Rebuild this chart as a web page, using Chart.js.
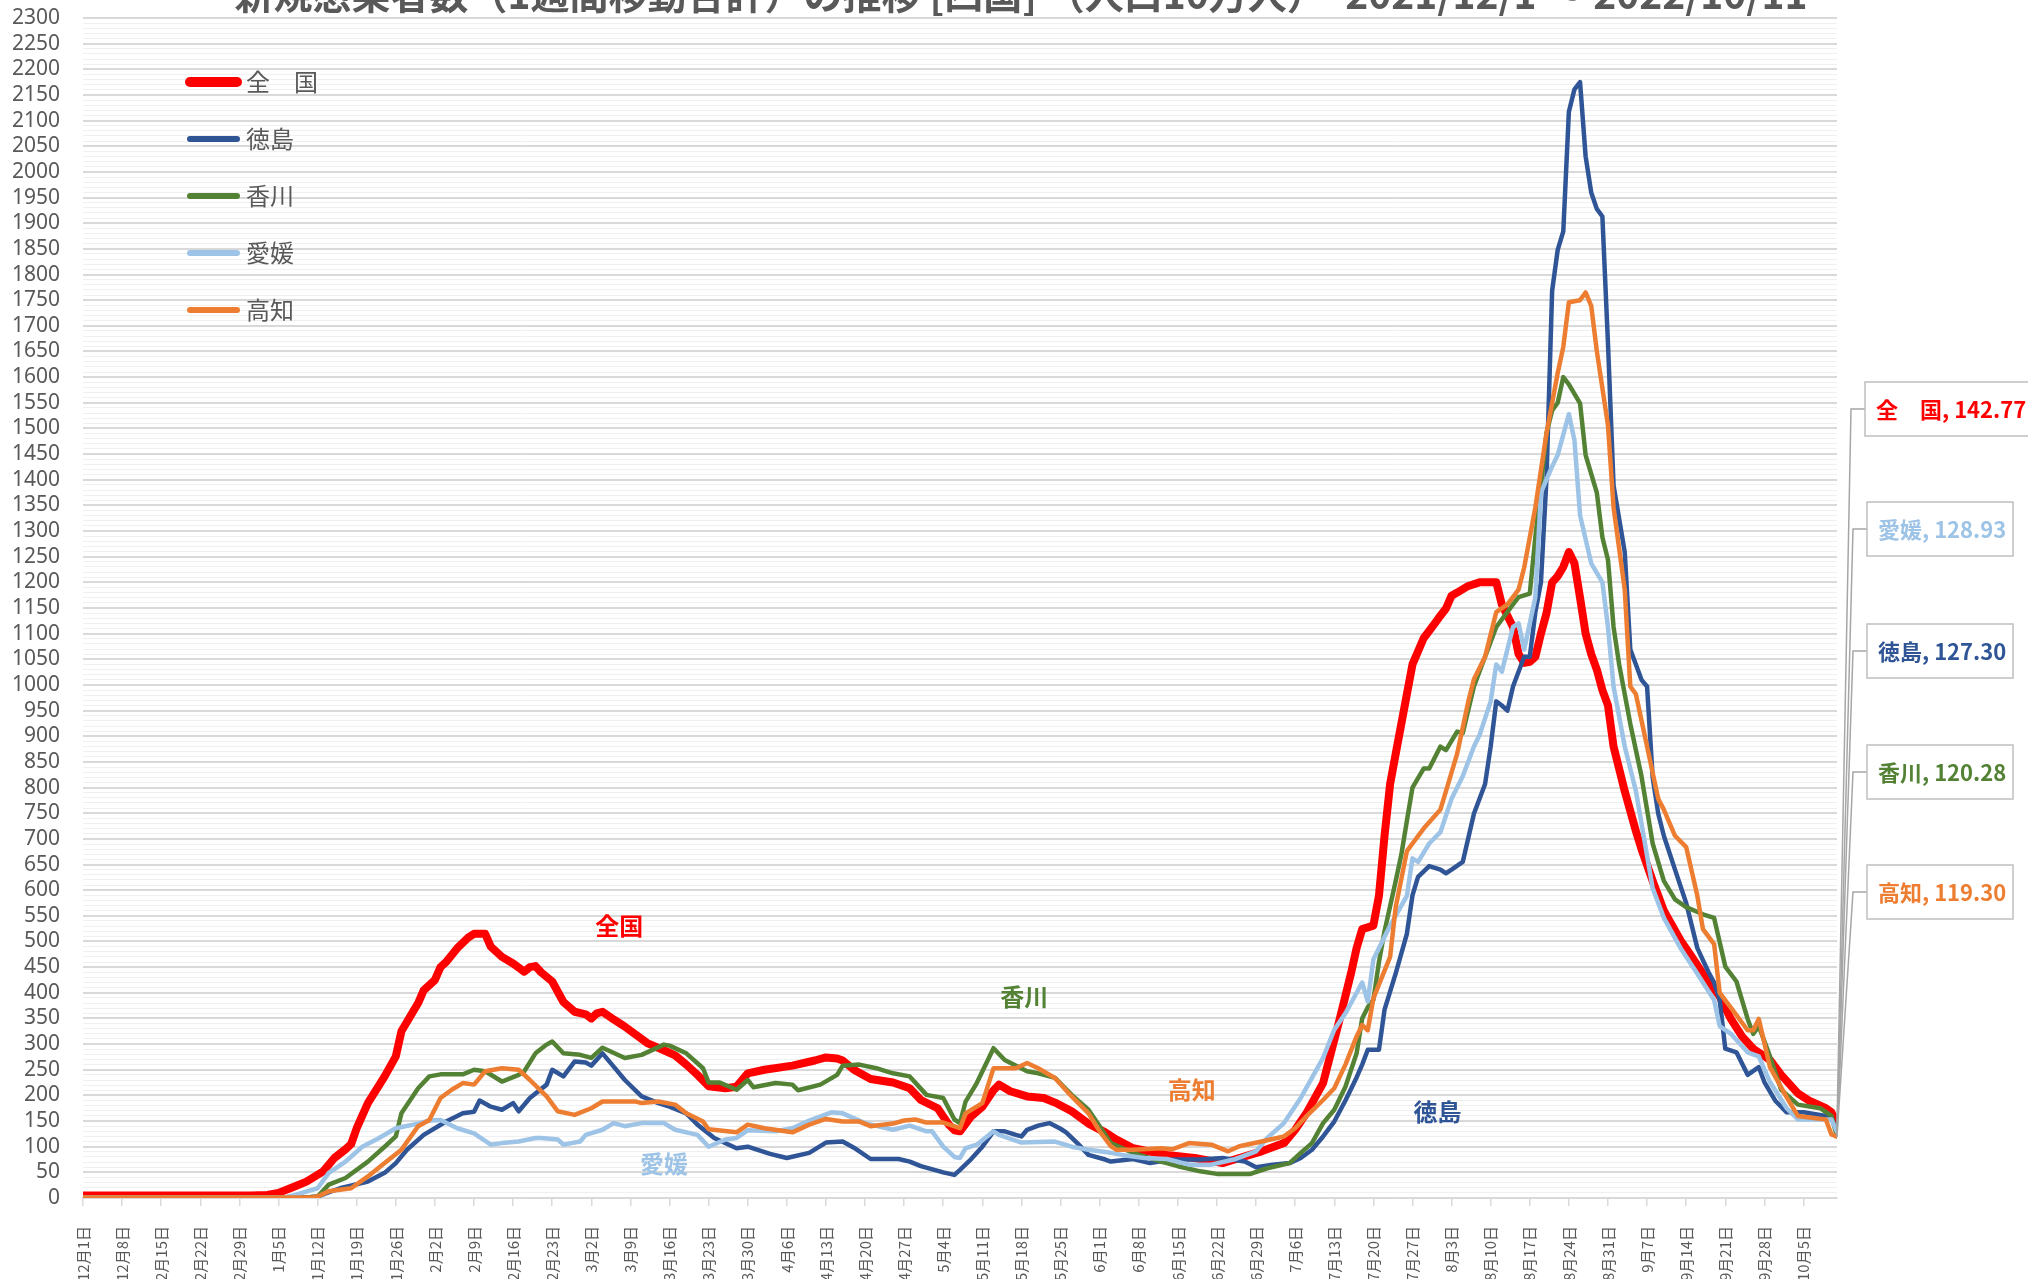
<!DOCTYPE html>
<html lang="ja">
<head>
<meta charset="utf-8">
<title>新規感染者数の推移 [四国]</title>
<script src="https://cdn.jsdelivr.net/npm/chart.js@4.4.1/dist/chart.umd.min.js"></script>
<style>
  html, body { margin: 0; padding: 0; background: #fff; }
  #wrap { width: 2028px; height: 1279px; position: relative; }
</style>
</head>
<body>
<div id="wrap"><canvas id="grafico" width="2028" height="1279"></canvas></div>
<script>
const titulo = '新規感染者数（1週間移動合計）の推移 [四国] （人口10万人）　2021/12/1 ～ 2022/10/11';

// 12/1 から 7日ごとの目盛り
const etiquetasX = [
  '12月1日', '12月8日', '12月15日', '12月22日', '12月29日', '1月5日', '1月12日', '1月19日', '1月26日',
  '2月2日', '2月9日', '2月16日', '2月23日', '3月2日', '3月9日', '3月16日', '3月23日', '3月30日',
  '4月6日', '4月13日', '4月20日', '4月27日', '5月4日', '5月11日', '5月18日', '5月25日', '6月1日',
  '6月8日', '6月15日', '6月22日', '6月29日', '7月6日', '7月13日', '7月20日', '7月27日', '8月3日',
  '8月10日', '8月17日', '8月24日', '8月31日', '9月7日', '9月14日', '9月21日', '9月28日', '10月5日'
];

const nombres = ['全　国', '徳島', '香川', '愛媛', '高知'];
const colores = ['#FF0000', '#2F5597', '#548235', '#9DC3E6', '#ED7D31'];

// [日数(12/1=0), 人数]
const zenkoku = [[0,5],[30,5],[33,6],[35,10],[38,23],[40,32],[43,52],[45,78],[47,95],[48,105],[49,136],[51,185],[54,237],[56,276],[57,325],[60,380],[61,405],[63,425],[64,450],[65,460],[67,487],[69,508],[70,515],[72,515],[73,490],[75,470],[77,457],[79,441],[80,450],[81,452],[82,440],[84,422],[86,382],[88,363],[90,358],[91,350],[92,360],[93,363],[95,348],[97,334],[101,302],[104,288],[106,278],[108,260],[110,240],[112,218],[115,214],[117,217],[118,230],[119,243],[122,250],[127,258],[131,268],[133,274],[135,272],[136,268],[138,250],[141,232],[145,225],[148,214],[150,191],[153,175],[155,143],[156,132],[157,130],[159,159],[161,178],[163,210],[164,221],[166,208],[169,198],[172,195],[174,186],[177,169],[180,145],[183,128],[185,114],[188,97],[194,84],[199,78],[204,68],[207,78],[211,91],[215,107],[217,133],[219,165],[222,224],[224,308],[225,350],[227,438],[228,487],[229,524],[231,531],[232,589],[233,706],[234,807],[235,866],[237,982],[238,1040],[240,1091],[242,1120],[243,1135],[244,1149],[245,1174],[246,1180],[248,1193],[250,1200],[253,1200],[254,1157],[256,1113],[257,1060],[258,1043],[259,1045],[260,1055],[261,1100],[262,1140],[263,1200],[264,1212],[265,1230],[266,1259],[267,1237],[268,1170],[269,1100],[270,1060],[271,1030],[272,990],[273,960],[274,880],[276,793],[278,715],[279,680],[281,618],[283,560],[286,502],[288,470],[290,437],[293,393],[295,349],[297,315],[299,291],[302,269],[304,240],[307,204],[309,190],[312,175],[313,167],[314,142.77]];

const tokushima = [[0,1],[40,1],[42,3],[46,19],[51,32],[54,49],[56,68],[58,94],[61,123],[65,149],[68,165],[70,168],[71,190],[73,178],[75,172],[77,185],[78,169],[80,195],[83,221],[84,250],[86,237],[88,266],[90,264],[91,258],[93,282],[95,256],[97,230],[100,198],[103,185],[105,178],[108,165],[110,143],[113,117],[117,97],[119,100],[123,86],[126,78],[130,88],[133,108],[136,110],[138,98],[141,76],[146,76],[148,71],[150,62],[154,50],[156,45],[157,55],[159,76],[161,100],[163,130],[165,130],[167,123],[168,120],[169,133],[171,141],[173,146],[175,135],[176,128],[178,107],[180,84],[183,75],[184,71],[188,76],[191,68],[195,75],[200,75],[204,78],[208,71],[210,60],[213,65],[216,68],[218,78],[220,94],[222,120],[224,149],[226,190],[228,235],[229,260],[230,289],[232,289],[233,367],[235,438],[237,515],[238,590],[239,626],[241,647],[243,640],[244,633],[245,640],[247,655],[249,749],[251,807],[252,880],[253,968],[254,960],[255,950],[256,997],[258,1055],[259,1055],[260,1142],[261,1200],[262,1404],[263,1768],[264,1848],[265,1884],[266,2117],[267,2161],[268,2175],[269,2030],[270,1960],[271,1928],[272,1913],[273,1666],[274,1389],[276,1259],[277,1069],[278,1040],[279,1010],[280,997],[281,820],[282,749],[283,706],[285,640],[287,575],[289,487],[291,440],[292,420],[293,386],[294,291],[296,284],[298,240],[300,255],[301,226],[303,189],[305,167],[308,167],[312,160],[313,158],[314,127.30]];

const kagawa = [[0,1],[40,1],[42,3],[44,26],[47,39],[51,71],[54,100],[56,120],[57,165],[60,214],[62,237],[64,241],[68,241],[70,250],[72,247],[75,227],[78,240],[79,247],[81,282],[83,299],[84,305],[86,282],[89,279],[91,273],[93,293],[97,273],[100,279],[104,299],[105,297],[108,282],[111,253],[112,225],[114,225],[117,211],[119,230],[120,216],[124,224],[127,221],[128,210],[132,221],[135,240],[136,258],[139,260],[142,253],[145,243],[148,237],[151,201],[154,195],[156,153],[157,146],[158,188],[160,224],[163,292],[165,269],[169,247],[171,243],[174,234],[177,201],[180,172],[182,140],[184,107],[188,88],[193,71],[196,62],[200,52],[203,47],[209,47],[212,58],[216,68],[218,88],[220,107],[222,146],[224,172],[226,217],[228,282],[229,350],[230,372],[231,386],[232,460],[233,520],[235,618],[236,669],[237,735],[238,800],[240,837],[241,837],[243,880],[244,873],[246,909],[247,906],[249,997],[251,1055],[253,1113],[256,1157],[257,1171],[259,1178],[260,1288],[262,1491],[263,1535],[264,1550],[265,1600],[266,1586],[268,1549],[269,1448],[271,1375],[272,1288],[273,1244],[274,1113],[275,1040],[277,924],[279,822],[281,691],[283,618],[285,582],[287,567],[290,553],[292,546],[294,451],[296,422],[298,349],[299,320],[300,335],[302,276],[304,211],[307,182],[311,175],[313,160],[314,120.28]];

const ehime = [[0,1],[36,1],[38,6],[42,19],[44,49],[47,71],[50,100],[53,117],[56,136],[60,145],[62,151],[64,152],[67,136],[70,126],[73,104],[75,107],[78,110],[81,117],[82,117],[85,114],[86,104],[89,110],[90,123],[93,133],[95,146],[97,140],[100,146],[104,146],[106,133],[110,123],[112,100],[115,114],[117,117],[119,132],[124,130],[127,136],[130,151],[134,167],[136,165],[140,146],[145,133],[148,141],[151,130],[152,130],[154,100],[156,80],[157,78],[158,97],[160,104],[163,130],[164,123],[168,108],[174,110],[177,100],[180,94],[184,88],[186,84],[190,78],[194,76],[198,65],[202,65],[206,75],[210,91],[212,117],[215,146],[218,195],[222,273],[224,328],[226,360],[229,420],[230,383],[231,465],[234,531],[237,589],[238,662],[239,655],[241,691],[243,713],[245,778],[247,822],[249,880],[250,902],[252,968],[253,1040],[254,1026],[256,1113],[257,1120],[258,1069],[260,1171],[261,1375],[263,1426],[264,1448],[266,1528],[267,1477],[268,1331],[270,1237],[272,1200],[273,1113],[274,997],[276,880],[278,793],[281,604],[283,546],[286,487],[289,437],[292,386],[293,335],[295,320],[298,284],[300,276],[302,226],[305,175],[307,153],[313,153],[314,128.93]];

const kochi = [[0,1],[41,1],[42,3],[44,13],[48,19],[51,42],[54,68],[57,94],[60,140],[62,152],[64,195],[66,211],[68,224],[70,221],[72,247],[75,253],[78,250],[80,230],[83,198],[85,169],[88,162],[91,175],[93,188],[99,188],[100,185],[103,188],[106,182],[108,165],[111,149],[112,134],[117,128],[119,143],[122,136],[127,128],[130,143],[133,154],[136,149],[139,149],[141,140],[145,145],[147,151],[149,153],[151,147],[154,147],[157,136],[158,165],[161,185],[163,253],[167,253],[169,263],[171,253],[174,234],[177,198],[180,165],[182,130],[184,101],[185,94],[188,94],[193,97],[195,95],[198,107],[202,104],[205,91],[207,101],[211,110],[215,120],[217,136],[219,159],[222,191],[224,214],[226,260],[228,315],[229,337],[230,327],[231,389],[234,470],[235,567],[237,676],[238,691],[240,720],[243,757],[244,793],[246,866],[248,968],[249,1011],[251,1055],[253,1142],[255,1157],[257,1186],[258,1229],[260,1346],[262,1491],[264,1608],[265,1659],[266,1746],[268,1750],[269,1765],[270,1739],[271,1651],[273,1506],[274,1346],[276,1186],[277,997],[278,982],[280,880],[282,778],[283,757],[285,706],[287,684],[289,589],[290,524],[292,495],[293,400],[295,371],[298,327],[299,327],[300,349],[302,255],[305,196],[307,160],[312,153],[313,124],[314,119.30]];

const series = [zenkoku, tokushima, kagawa, ehime, kochi];

// グラフ内の注記（日数, 人数）
const notas = [
  { texto: '全国', dia: 96, valor: 530, color: '#FF0000' },
  { texto: '香川', dia: 168.5, valor: 392, color: '#548235' },
  { texto: '高知', dia: 198.5, valor: 211, color: '#ED7D31' },
  { texto: '徳島', dia: 242.5, valor: 168, color: '#2F5597' },
  { texto: '愛媛', dia: 104, valor: 66, color: '#9DC3E6' }
];

const FUENTE = '"Noto Sans CJK JP", "Noto Sans", sans-serif';

const extras = {
  id: 'extras',
  afterDraw(chart) {
    const ctx = chart.ctx;
    const sx = chart.scales.x, sy = chart.scales.y;
    ctx.save();

    // タイトル（上端で切れている）
    ctx.fillStyle = '#595959';
    ctx.font = 'bold 39px ' + FUENTE;
    ctx.textAlign = 'center';
    ctx.textBaseline = 'alphabetic';
    ctx.fillText(titulo, 1021, 9);

    // 凡例
    ctx.textAlign = 'left';
    ctx.textBaseline = 'middle';
    ctx.font = '24px ' + FUENTE;
    nombres.forEach((n, i) => {
      const y = 82 + 57 * i;
      ctx.strokeStyle = colores[i];
      ctx.lineWidth = i === 0 ? 10 : 6;
      ctx.lineCap = 'round';
      ctx.beginPath();
      ctx.moveTo(190, y);
      ctx.lineTo(237, y);
      ctx.stroke();
      ctx.fillStyle = '#595959';
      ctx.fillText(n, 246, y);
    });

    // 注記
    ctx.font = 'bold 24px ' + FUENTE;
    ctx.textAlign = 'center';
    notas.forEach(nt => {
      ctx.fillStyle = nt.color;
      ctx.fillText(nt.texto, sx.getPixelForValue(nt.dia), sy.getPixelForValue(nt.valor));
    });

    // 最終値ラベル
    const cajas = [382, 624, 745, 502, 865];
    ctx.font = 'bold 22px ' + FUENTE;
    ctx.textAlign = 'left';
    series.forEach((s, i) => {
      const ultimo = s[s.length - 1];
      const px = sx.getPixelForValue(ultimo[0]);
      const py = sy.getPixelForValue(ultimo[1]);
      const left = i === 0 ? 1865 : 1867;
      const w = i === 0 ? 175 : 146;
      const top = cajas[i], h = 54, mid = top + h / 2;
      ctx.strokeStyle = '#A6A6A6';
      ctx.lineWidth = 1.5;
      ctx.beginPath();
      ctx.moveTo(left, mid);
      ctx.lineTo(left - 14, mid);
      ctx.lineTo(px, py);
      ctx.stroke();
      ctx.fillStyle = '#FFFFFF';
      ctx.fillRect(left, top, w, h);
      ctx.strokeStyle = '#BFBFBF';
      ctx.strokeRect(left, top, w, h);
      ctx.fillStyle = colores[i];
      ctx.fillText(nombres[i] + ', ' + ultimo[1].toFixed(2), left + 11, mid + 1);
    });
    ctx.restore();
  }
};

new Chart(document.getElementById('grafico'), {
  type: 'line',
  data: {
    datasets: series.map((s, i) => ({
      label: nombres[i],
      data: s.map(p => ({ x: p[0], y: p[1] })),
      borderColor: colores[i],
      borderWidth: i === 0 ? 8 : 4.5,
      borderJoinStyle: 'round',
      borderCapStyle: 'round',
      pointRadius: 0,
      tension: 0,
      fill: false,
      order: 4 - i
    }))
  },
  options: {
    responsive: false,
    animation: false,
    devicePixelRatio: 1,
    layout: { padding: { top: 18, right: 191, left: 0, bottom: 0 } },
    plugins: {
      legend: { display: false },
      tooltip: { enabled: false },
      title: { display: false }
    },
    scales: {
      x: {
        type: 'linear',
        min: 0,
        max: 314,
        afterBuildTicks: s => { s.ticks = etiquetasX.map((_, i) => ({ value: i * 7 })); },
        afterFit: s => { s.height = 81; },
        ticks: {
          autoSkip: false,
          minRotation: 90,
          maxRotation: 90,
          padding: 20,
          color: '#595959',
          font: { family: FUENTE, size: 15 },
          callback: (v, i) => etiquetasX[i]
        },
        grid: { drawOnChartArea: false, drawTicks: true, tickLength: 8, color: '#D9D9D9', lineWidth: 1.5 },
        border: { color: '#D9D9D9', width: 2 }
      },
      y: {
        min: 0,
        max: 2300,
        afterBuildTicks: s => {
          const t = [];
          for (let v = 0; v <= 2300; v += 10) t.push({ value: v });
          s.ticks = t;
        },
        afterFit: s => {
          s.width = 83;
          s.paddingTop = 0;
          s.paddingBottom = 0;
        },
        ticks: {
          autoSkip: false,
          padding: 23,
          color: '#595959',
          font: { family: '"Noto Sans", sans-serif', size: 21 },
          callback: v => (v % 50 === 0 ? String(v) : '')
        },
        grid: {
          drawTicks: false,
          color: c => (c.tick && c.tick.value % 50 === 0 ? '#D9D9D9' : '#F0F0F0'),
          lineWidth: c => (c.tick && c.tick.value % 50 === 0 ? 2 : 1)
        },
        border: { display: false }
      }
    }
  },
  plugins: [extras]
});
</script>
</body>
</html>
